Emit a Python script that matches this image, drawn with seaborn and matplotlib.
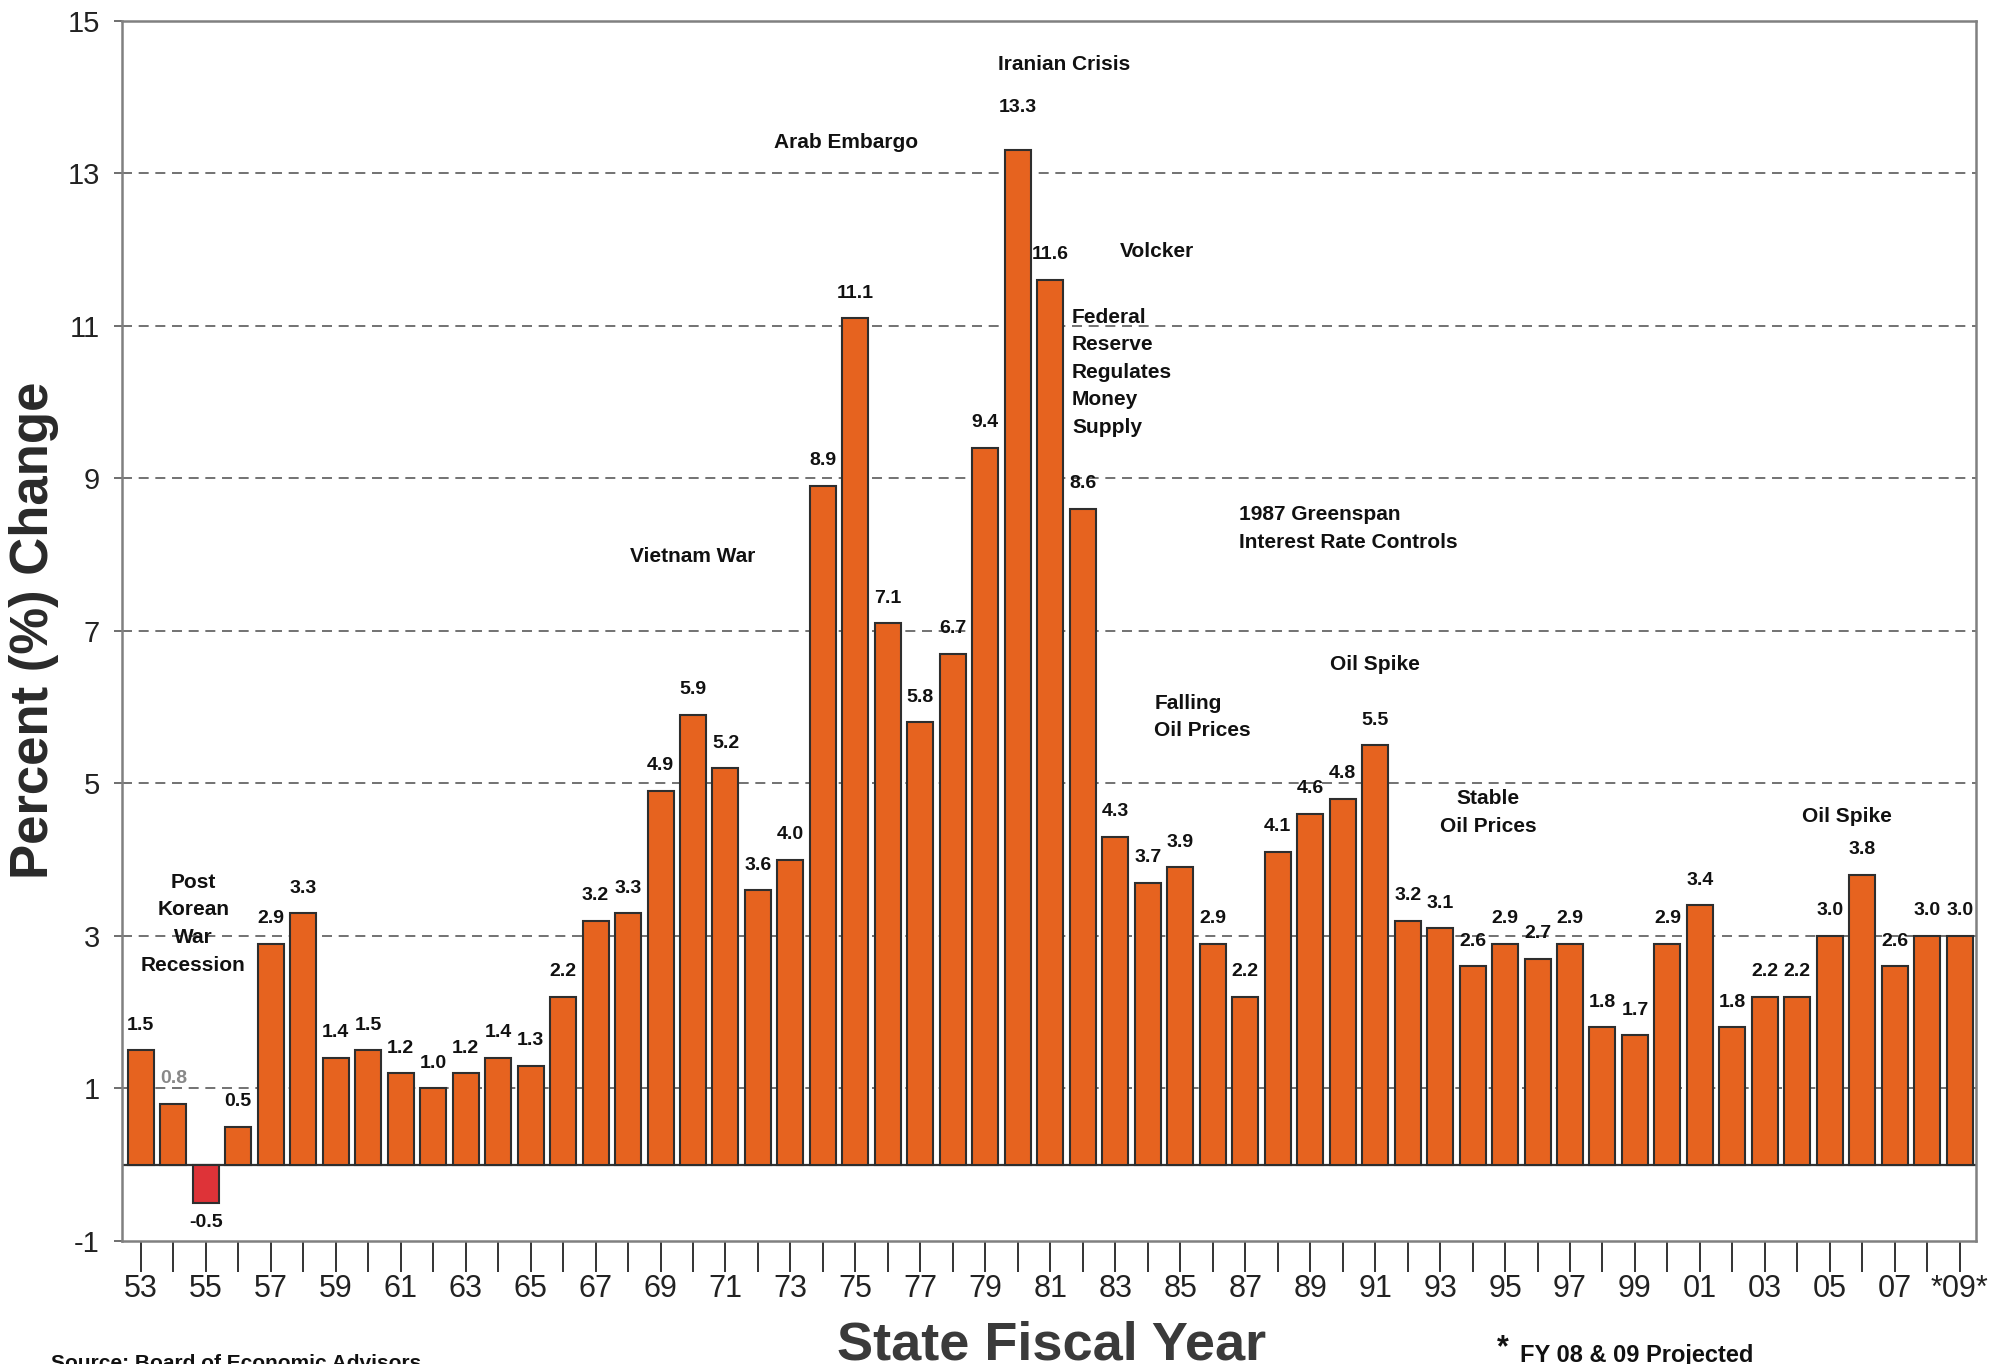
import numpy as np
import pandas as pd
import matplotlib
matplotlib.use("Agg")
import matplotlib.pyplot as plt
import seaborn as sns

# Annual percent change by state fiscal year (FY 08 and FY 09 projected)
fiscal_years = list(range(1953, 2010))
pct_change = [1.5, 0.8, -0.5, 0.5, 2.9, 3.3, 1.4, 1.5, 1.2, 1.0,
              1.2, 1.4, 1.3, 2.2, 3.2, 3.3, 4.9, 5.9, 5.2, 3.6,
              4.0, 8.9, 11.1, 7.1, 5.8, 6.7, 9.4, 13.3, 11.6, 8.6,
              4.3, 3.7, 3.9, 2.9, 2.2, 4.1, 4.6, 4.8, 5.5, 3.2,
              3.1, 2.6, 2.9, 2.7, 2.9, 1.8, 1.7, 2.9, 3.4, 1.8,
              2.2, 2.2, 3.0, 3.8, 2.6, 3.0, 3.0]

# Every other year is labelled; the last (projected) year is starred
year_tick_labels = [f"{y % 100:02d}" if (y - 1953) % 2 == 0 else "" for y in fiscal_years]
year_tick_labels[-1] = "*09*"

y_ticks = [-1, 1, 3, 5, 7, 9, 11, 13, 15]

# Historical events written on the chart: (text, x in bar index, y in %, alignment)
events = [
    ("Post\nKorean\nWar\nRecession", 1.62, 3.16, "center"),
    ("Vietnam War", 16.98, 7.97, "center"),
    ("Arab Embargo", 21.72, 13.40, "center"),
    ("Iranian Crisis", 28.44, 14.43, "center"),
    ("Volcker", 31.28, 11.97, "center"),
    ("Federal\nReserve\nRegulates\nMoney\nSupply", 28.67, 10.39, "left"),
    ("1987 Greenspan\nInterest Rate Controls", 33.81, 8.34, "left"),
    ("Falling\nOil Prices", 31.20, 5.87, "left"),
    ("Oil Spike", 37.99, 6.56, "center"),
    ("Stable\nOil Prices", 41.47, 4.62, "center"),
    ("Oil Spike", 52.53, 4.57, "center"),
]

sns.set_style("white")
BOLD_FONT = ["Liberation Sans", "DejaVu Sans"]
NARROW_FONT = ["Liberation Sans Narrow", "Liberation Sans", "DejaVu Sans"]
plt.rcParams["font.family"] = BOLD_FONT

W, H = 2012, 1364
fig = plt.figure(figsize=(W / 100, H / 100), dpi=100)
ax_left, ax_right, ax_top, ax_bottom = 122, 1976, 20.6, 1241
ax = fig.add_axes([ax_left / W, 1 - ax_bottom / H,
                   (ax_right - ax_left) / W, (ax_bottom - ax_top) / H])

year_keys = [str(y) for y in fiscal_years]
df = pd.DataFrame({"year": year_keys, "pct": pct_change})
df["kind"] = np.where(df["pct"] < 0, "decline", "growth")

sns.barplot(data=df, x="year", y="pct", hue="kind", order=year_keys,
            palette={"growth": "#E6631F", "decline": "#DE3338"},
            dodge=False, legend=False, width=0.8, saturation=1,
            edgecolor="#2e2e2e", linewidth=1.5, ax=ax, zorder=3)

ax.set_xlim(-0.58, len(fiscal_years) - 0.5)
ax.set_ylim(-1, 15)
ax.set_xlabel("")
ax.set_ylabel("")

# Dashed guide lines at the odd percentages, solid line at zero
for gy in [1, 3, 5, 7, 9, 11, 13]:
    ax.axhline(gy, color="#5a5a5a", lw=1.2, linestyle=(0, (6, 4)), zorder=1)
ax.axhline(0, color="#333333", lw=1.6, zorder=2)

for side in ["left", "right", "top", "bottom"]:
    ax.spines[side].set_visible(True)
    ax.spines[side].set_color("#808080")
    ax.spines[side].set_linewidth(1.8)

ax.set_yticks(y_ticks)
ax.set_yticklabels([str(t) for t in y_ticks], fontsize=21, color="#222222")
ax.tick_params(axis="y", direction="out", length=6, width=1.2, color="#555555", pad=10, left=True)

ax.set_xticks(range(len(fiscal_years)))
ax.set_xticklabels(year_tick_labels, fontsize=22, color="#222222", family=NARROW_FONT)
ax.tick_params(axis="x", direction="out", length=22, width=1.4, color="#333333", pad=2, bottom=True)

# Value labels above (or below) each bar
for i, v in enumerate(pct_change):
    color = "#888888" if i == 1 else "#111111"
    if v < 0:
        ax.annotate(f"{v:.1f}", (i, v), xytext=(0, -14), textcoords="offset points",
                    ha="center", va="center", fontsize=14, fontweight="bold", color=color)
    else:
        off = 31 if v == max(pct_change) else 18
        ax.annotate(f"{v:.1f}", (i, v), xytext=(0, off), textcoords="offset points",
                    ha="center", va="center", fontsize=14, fontweight="bold", color=color,
                    zorder=4)

for text, ex, ey, ha in events:
    ax.text(ex, ey, text, ha=ha, va="center", fontsize=15, fontweight="bold",
            color="#111111", linespacing=1.57, zorder=4)

fig.text(34 / W, 1 - 630 / H, "Percent (%) Change", rotation=90, ha="center", va="center",
         fontsize=38, fontweight="bold", color="#2a2a2a")
fig.text(1052 / W, 1 - 1360 / H, "State Fiscal Year", ha="center", va="baseline",
         fontsize=39, fontweight="bold", color="#3a3a3a", family=NARROW_FONT)
fig.text(51 / W, 1 - 1354 / H, "Source: Board of Economic Advisors", ha="left", va="top",
         fontsize=15, fontweight="bold", color="#111111")
fig.text(1497 / W, 1 - 1356 / H, "*", ha="left", va="baseline",
         fontsize=22, fontweight="bold", color="#111111")
fig.text(1520 / W, 1 - 1362 / H, "FY 08 & 09 Projected", ha="left", va="baseline",
         fontsize=17, fontweight="bold", color="#111111", family=NARROW_FONT)

fig.savefig("out.png", dpi=100, facecolor="white")
